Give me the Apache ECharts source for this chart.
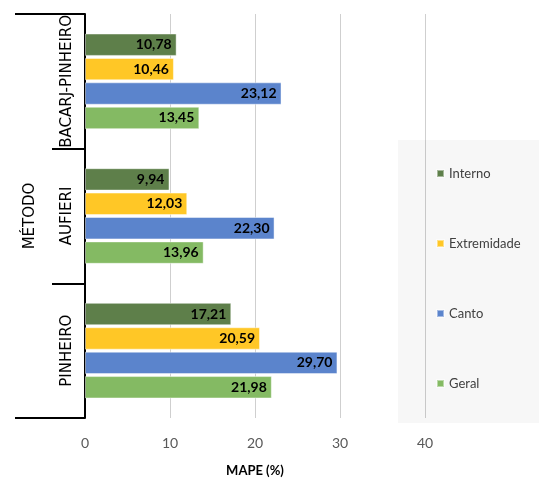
<!DOCTYPE html>
<html><head><meta charset="utf-8">
<script src="https://cdn.jsdelivr.net/npm/echarts@6/dist/echarts.min.js"></script>
<style>html,body{margin:0;padding:0;background:#fff}#c{width:539px;height:482px}</style>
</head><body><div id="c"></div>
<script>
const methods = ['BACARJ-PINHEIRO', 'AUFIERI', 'PINHEIRO'];
const seriesNames = ['Interno', 'Extremidade', 'Canto', 'Geral'];
const interno = [10.78, 9.94, 17.21];
const extremidade = [10.46, 12.03, 20.59];
const canto = [23.12, 22.30, 29.70];
const geral = [13.45, 13.96, 21.98];
const xTicks = [0, 10, 20, 30, 40];
const colors = ['#5e7f4a', '#ffc726', '#5b84cc', '#84ba63'];

const values = [interno, extremidade, canto, geral];
const chart = echarts.init(document.getElementById('c'));
const FF = 'Lato, "Open Sans", sans-serif';
const YF = '"DejaVu Sans", sans-serif';
chart.setOption({
  animation: false,
  textStyle: { fontFamily: FF },
  grid: { left: 85, right: 114, top: 14, bottom: 60, containLabel: false },
  xAxis: {
    type: 'value', min: xTicks[0], max: xTicks[xTicks.length - 1], interval: 10,
    axisLine: { show: false }, axisTick: { show: false },
    splitLine: { lineStyle: { color: '#cfcfcf', width: 1 } },
    axisLabel: { color: '#595959', fontSize: 14, margin: 18, fontFamily: FF },
    name: 'MAPE (%)', nameLocation: 'middle', nameGap: 46,
    nameTextStyle: { color: '#000', fontWeight: 'bold', fontSize: 13, fontFamily: FF }
  },
  yAxis: [{
    type: 'category', data: methods, inverse: true,
    axisLine: { show: true, lineStyle: { color: '#000', width: 2 } },
    axisTick: { show: true, interval: 0, length: 33, lineStyle: { color: '#000', width: 2 } },
    axisLabel: { show: true, interval: 0, rotate: 90, color: '#000', fontSize: 15, margin: 10, fontFamily: YF }
  }, {
    type: 'category', data: ['MÉTODO'], position: 'left', offset: 33,
    axisLine: { show: false },
    axisTick: { show: true, interval: 0, length: 37, lineStyle: { color: '#000', width: 2 } },
    axisLabel: { show: true, interval: 0, rotate: 90, color: '#000', fontSize: 15, margin: 14, fontFamily: YF }
  }],
  legend: {
    data: seriesNames, orient: 'vertical', left: 398, top: 140,
    icon: 'rect', itemWidth: 7, itemHeight: 7, itemGap: 57,
    padding: [27, 40, 33, 38],
    backgroundColor: 'rgba(0,0,0,0.03)',
    textStyle: { color: '#404040', fontSize: 13, fontFamily: FF }
  },
  series: seriesNames.map((n, i) => ({
    name: n, type: 'bar', yAxisIndex: 0, data: values[i],
    barCategoryGap: '29%', barGap: '9%',
    itemStyle: { color: colors[i], borderColor: 'rgba(255,255,255,0.45)', borderWidth: 1 },
    label: {
      show: true, position: 'insideRight', distance: 5,
      color: '#000', fontWeight: 'bold', fontSize: 14, fontFamily: FF,
      formatter: p => p.value.toFixed(2).replace('.', ',')
    }
  }))
});
</script></body></html>
